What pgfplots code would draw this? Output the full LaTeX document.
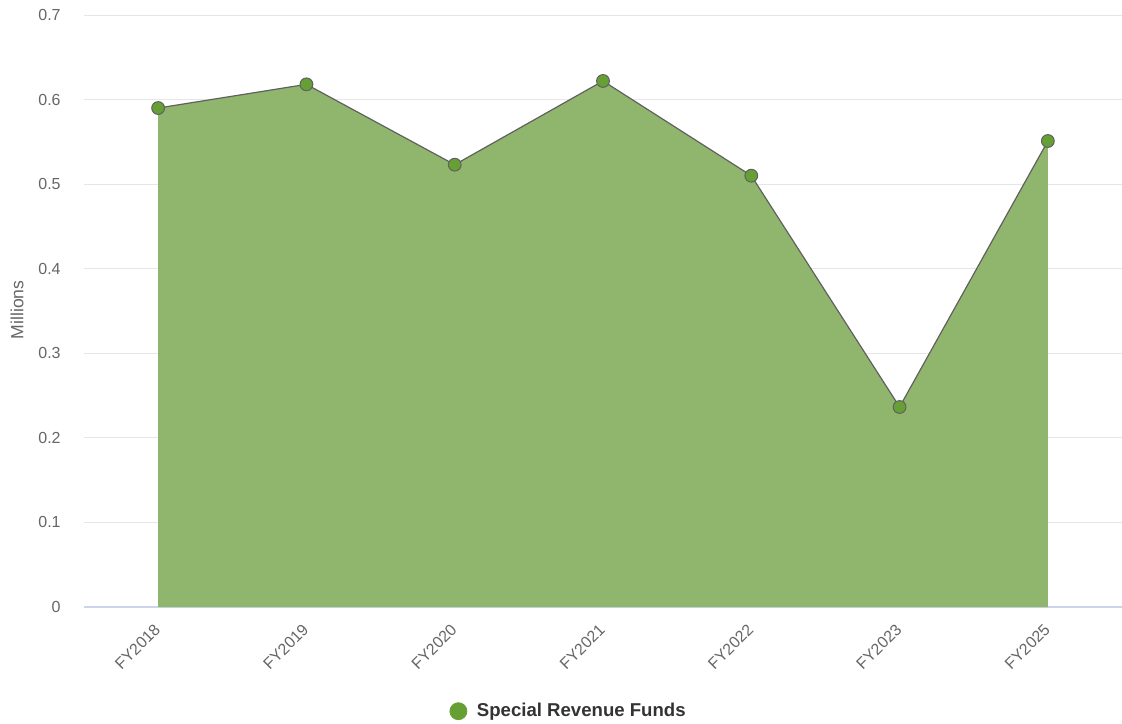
\documentclass[border=0pt]{standalone}
\usepackage{fontspec}
\setmainfont{Liberation Sans}
\usepackage{pgfplots}
\pgfplotsset{compat=1.18}

\definecolor{areafill}{HTML}{90B66D}
\definecolor{markfill}{HTML}{66A035}
\definecolor{linecol}{HTML}{606060}
\definecolor{gridcol}{HTML}{E6E6E6}
\definecolor{axiscol}{HTML}{CCD6EB}
\definecolor{labelcol}{HTML}{666666}
\definecolor{legendcol}{HTML}{333333}

\begin{document}
\begin{tikzpicture}
\useasboundingbox (-42pt,-58pt) rectangle (519pt,303.5pt);
\begin{axis}[
  at={(0,0)}, anchor=south west,
  scale only axis,
  width=519pt, height=296pt,
  xmin=-0.5, xmax=6.5,
  ymin=0, ymax=0.7,
  ytick={0,0.1,...,0.7},
  yticklabels={0,0.1,0.2,0.3,0.4,0.5,0.6,0.7},
  xtick={0,...,6},
  xticklabels={FY2018,FY2019,FY2020,FY2021,FY2022,FY2023,FY2025},
  x tick label style={rotate=45, anchor=north east, font=\fontsize{8}{9}\selectfont, text=labelcol, inner sep=0pt, xshift=-7.25pt, yshift=-3.8pt},
  y tick label style={font=\fontsize{8}{9}\selectfont, text=labelcol, inner sep=0pt, xshift=-11.5pt},
  major tick length=0pt,
  ymajorgrids,
  grid style={gridcol, line width=0.5pt},
  axis x line*=bottom,
  axis y line*=left,
  x axis line style={axiscol, line width=0.6pt, -},
  y axis line style={draw=none},
  ylabel={Millions},
  ylabel style={font=\fontsize{8.8}{10}\selectfont, text=labelcol, at={(axis description cs:-0.0645,0.502)}, anchor=center},
  legend style={at={(axis description cs:0.468,-0.176)}, anchor=center, draw=none, font=\bfseries\fontsize{9.3}{11}\selectfont, text=legendcol},
  legend cell align=left,
  clip=false,
]
\addplot[fill=areafill, draw=none, forget plot] coordinates {
  (0,0.590) (1,0.618) (2,0.523) (3,0.622) (4,0.510) (5,0.2365) (6,0.551)
} \closedcycle;
\addplot[linecol, line width=0.6pt, mark=*, mark size=3.2pt,
  mark options={fill=markfill, draw=linecol, line width=0.5pt}, forget plot] coordinates {
  (0,0.590) (1,0.618) (2,0.523) (3,0.622) (4,0.510) (5,0.2365) (6,0.551)
};
\addlegendimage{only marks, mark=*, mark size=4.25pt, mark options={fill=markfill, draw=markfill}}
\addlegendentry{\hspace{3pt}Special Revenue Funds}
\end{axis}
\end{tikzpicture}
\end{document}
